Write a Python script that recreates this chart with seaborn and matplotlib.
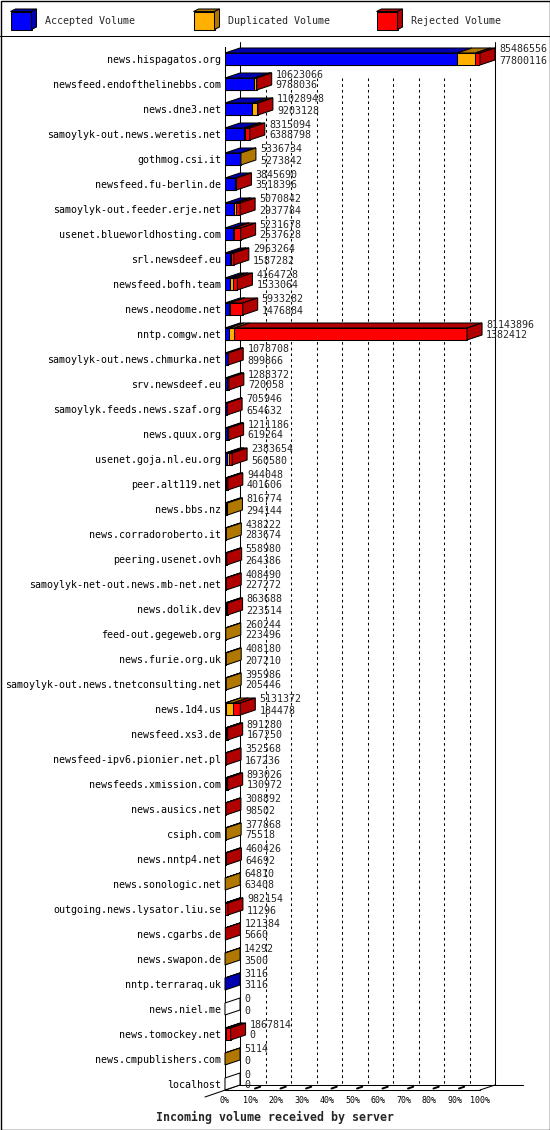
import numpy as np
import pandas as pd
import matplotlib
matplotlib.use("Agg")
import matplotlib.pyplot as plt
from matplotlib.patches import Polygon, Rectangle
import seaborn as sns

servers = [
    "news.hispagatos.org", "newsfeed.endofthelinebbs.com", "news.dne3.net",
    "samoylyk-out.news.weretis.net", "gothmog.csi.it", "newsfeed.fu-berlin.de",
    "samoylyk-out.feeder.erje.net", "usenet.blueworldhosting.com", "srl.newsdeef.eu",
    "newsfeed.bofh.team", "news.neodome.net", "nntp.comgw.net",
    "samoylyk-out.news.chmurka.net", "srv.newsdeef.eu", "samoylyk.feeds.news.szaf.org",
    "news.quux.org", "usenet.goja.nl.eu.org", "peer.alt119.net", "news.bbs.nz",
    "news.corradoroberto.it", "peering.usenet.ovh", "samoylyk-net-out.news.mb-net.net",
    "news.dolik.dev", "feed-out.gegeweb.org", "news.furie.org.uk",
    "samoylyk-out.news.tnetconsulting.net", "news.1d4.us", "newsfeed.xs3.de",
    "newsfeed-ipv6.pionier.net.pl", "newsfeeds.xmission.com", "news.ausics.net",
    "csiph.com", "news.nntp4.net", "news.sonologic.net", "outgoing.news.lysator.liu.se",
    "news.cgarbs.de", "news.swapon.de", "nntp.terraraq.uk", "news.niel.me",
    "news.tomockey.net", "news.cmpublishers.com", "localhost",
]
total_volume = [
    85486556, 10623066, 11028948, 8315094, 5336734, 3845690, 5070842, 5231678,
    2963264, 4164728, 5933282, 81143896, 1078708, 1288372, 705946, 1211186,
    2383654, 944048, 816774, 438222, 558980, 408490, 863688, 260244, 408180,
    395986, 5131372, 891280, 352568, 893026, 308892, 377868, 460426, 64810,
    982154, 121384, 14292, 3116, 0, 1867814, 5114, 0,
]
accepted_volume = [
    77800116, 9788036, 9203128, 6388798, 5273842, 3518396, 2937784, 2537628,
    1587282, 1533064, 1476884, 1382412, 899866, 720058, 654632, 619264,
    560580, 401606, 294144, 283674, 264386, 227272, 223514, 223496, 207210,
    205446, 184478, 167250, 167236, 130972, 98502, 75518, 64692, 63408,
    11296, 5660, 3500, 3116, 0, 0, 0, 0,
]
duplicated_volume = [
    6100000, 450000, 1420000, 450000, 62892, 0, 600000, 450000,
    500000, 1000000, 60000, 1800000, 0, 0, 0, 300000,
    700000, 0, 522630, 154548, 0, 0, 0, 36748, 200970,
    190540, 2500000, 100000, 0, 150000, 0, 302350, 0, 1402,
    150000, 0, 10792, 0, 0, 500000, 5114, 0,
]
rejected_volume = [
    1586440, 385030, 405820, 1476296, 0, 327294, 1533058, 2244050,
    875982, 1631664, 4396398, 77961484, 178842, 568314, 51314, 291922,
    1123074, 542442, 0, 0, 294594, 181218, 640174, 0, 0,
    0, 2446894, 624030, 185332, 612054, 210390, 0, 395734, 0,
    820858, 115724, 0, 0, 0, 1367814, 0, 0,
]
legend_labels = ["Accepted Volume", "Duplicated Volume", "Rejected Volume"]
tick_labels = ["0%", "10%", "20%", "30%", "40%", "50%", "60%", "70%", "80%", "90%", "100%"]

front_colors = ["#0000ff", "#ffb000", "#ff0000"]
dark_colors = ["#0000b0", "#b07800", "#b00000"]

sns.set_theme(style="white")
plt.rcParams["font.family"] = ["DejaVu Sans Mono"]

vmax = max(total_volume)
df = pd.DataFrame({"server": servers})
df["acc_end"] = np.array(accepted_volume) / vmax * 100
df["dup_end"] = (np.array(accepted_volume) + np.array(duplicated_volume)) / vmax * 100
df["rej_end"] = (np.array(accepted_volume) + np.array(duplicated_volume)
                 + np.array(rejected_volume)) / vmax * 100

W, H = 550, 1130
fig = plt.figure(figsize=(W / 100, H / 100), dpi=100)
ax = fig.add_axes([225 / W, 1 - 1090 / H, 255 / W, 1043 / H])

bar_h = 0.48
dx = 15 / 2.55      # depth in percent units
dy = -5 / 25        # depth in row units
lw = 0.75

# back wall and grid
y_top, y_bot = -0.48, 41.24
for k in range(1, 10):
    ax.plot([10 * k + dx] * 2, [0.76, y_bot + dy], color="black", lw=lw,
            ls=(0, (2.5, 3)), zorder=0.5, clip_on=False)
for xb in [dx, 100 + dx]:
    ax.plot([xb, xb], [y_top + dy, y_bot + dy], color="black", lw=lw, zorder=0.5, clip_on=False)
ax.plot([dx, (523 - 225) / 2.55], [y_bot + dy] * 2, color="black", lw=lw, clip_on=False)
ax.plot([100, 100 + dx], [y_bot, y_bot + dy], color="black", lw=lw, clip_on=False)
ax.plot([-20 / 2.55, dx], [y_bot + 7 / 25, y_bot + dy], color="black", lw=lw, clip_on=False)
for k in range(1, 10):
    ax.plot([10 * k + 0.3 * dx, 10 * k + 0.65 * dx],
            [y_bot + 0.3 * dy, y_bot + 0.65 * dy], color="black", lw=1.4, clip_on=False)

# front faces, stacked
for col, c in [("rej_end", front_colors[2]), ("dup_end", front_colors[1]), ("acc_end", front_colors[0])]:
    sns.barplot(data=df, x=col, y="server", orient="h", color=c, saturation=1,
                width=bar_h, edgecolor="black", linewidth=lw, errorbar=None, ax=ax, zorder=2)

# top and end faces
for i, r in df.iterrows():
    top, bot = i - bar_h / 2, i + bar_h / 2
    segs = [(0, r.acc_end, dark_colors[0]), (r.acc_end, r.dup_end, dark_colors[1]),
            (r.dup_end, r.rej_end, dark_colors[2])]
    end_color = "white"
    for x0, x1, c in segs:
        if x1 > x0:
            ax.add_patch(Polygon([(x0, top), (x1, top), (x1 + dx, top + dy), (x0 + dx, top + dy)],
                                 closed=True, fc=c, ec="black", lw=lw, zorder=3, clip_on=False))
            end_color = c
    e = r.rej_end
    ax.add_patch(Polygon([(e, top), (e, bot), (e + dx, bot + dy), (e + dx, top + dy)],
                         closed=True, fc=end_color, ec="black", lw=lw, zorder=3, clip_on=False))
    ax.text(e + dx + 1.6, i - 0.38, str(total_volume[i]), fontsize=7.2, ha="left",
            va="center", zorder=4, clip_on=False)
    ax.text(e + dx + 1.6, i + 0.06, str(accepted_volume[i]), fontsize=7.2, ha="left",
            va="center", zorder=4, clip_on=False)

ax.set_xlim(0, 100)
ax.set_ylim(y_bot, y_top)
ax.set_xticks(range(0, 101, 10))
ax.set_xticklabels(tick_labels, fontsize=6)
ax.set_xlabel("")
ax.set_ylabel("")
ax.tick_params(axis="y", length=0, pad=2.9, labelsize=7.2, colors="black")
ax.tick_params(axis="x", length=3, width=lw, pad=1.5, direction="out", colors="black")
ax.patch.set_alpha(0)
for s in ["top", "right"]:
    ax.spines[s].set_visible(False)
for s in ["left", "bottom"]:
    ax.spines[s].set_color("black")
    ax.spines[s].set_linewidth(lw)

fig.text(275 / W, 1 - 1117 / H, "Incoming volume received by server", fontsize=8.4,
         fontweight="bold", ha="center", va="center")

# frame and legend in pixel coordinates
lax = fig.add_axes([0, 0, 1, 1])
lax.set_xlim(0, W)
lax.set_ylim(H, 0)
lax.axis("off")
lax.patch.set_alpha(0)
lax.add_patch(Rectangle((0.5, 0.5), W - 1, H - 1, fill=False, ec="black", lw=1))
lax.plot([0, W], [36, 36], color="black", lw=lw)
for k, (x0, tx) in enumerate([(10.5, 45), (193.5, 228), (376.5, 411)]):
    y0, bw, bh, ldx, ldy = 11.5, 21, 18, 5, -2.5
    lax.add_patch(Rectangle((x0, y0), bw, bh, fc=front_colors[k], ec="black", lw=lw))
    lax.add_patch(Polygon([(x0, y0), (x0 + bw, y0), (x0 + bw + ldx, y0 + ldy), (x0 + ldx, y0 + ldy)],
                          closed=True, fc=dark_colors[k], ec="black", lw=lw))
    lax.add_patch(Polygon([(x0 + bw, y0), (x0 + bw, y0 + bh), (x0 + bw + ldx, y0 + bh + ldy),
                           (x0 + bw + ldx, y0 + ldy)], closed=True, fc=dark_colors[k], ec="black", lw=lw))
    lax.text(tx, 21, legend_labels[k], fontsize=7.2, ha="left", va="center")

fig.savefig("out.png", dpi=100, facecolor="white")
